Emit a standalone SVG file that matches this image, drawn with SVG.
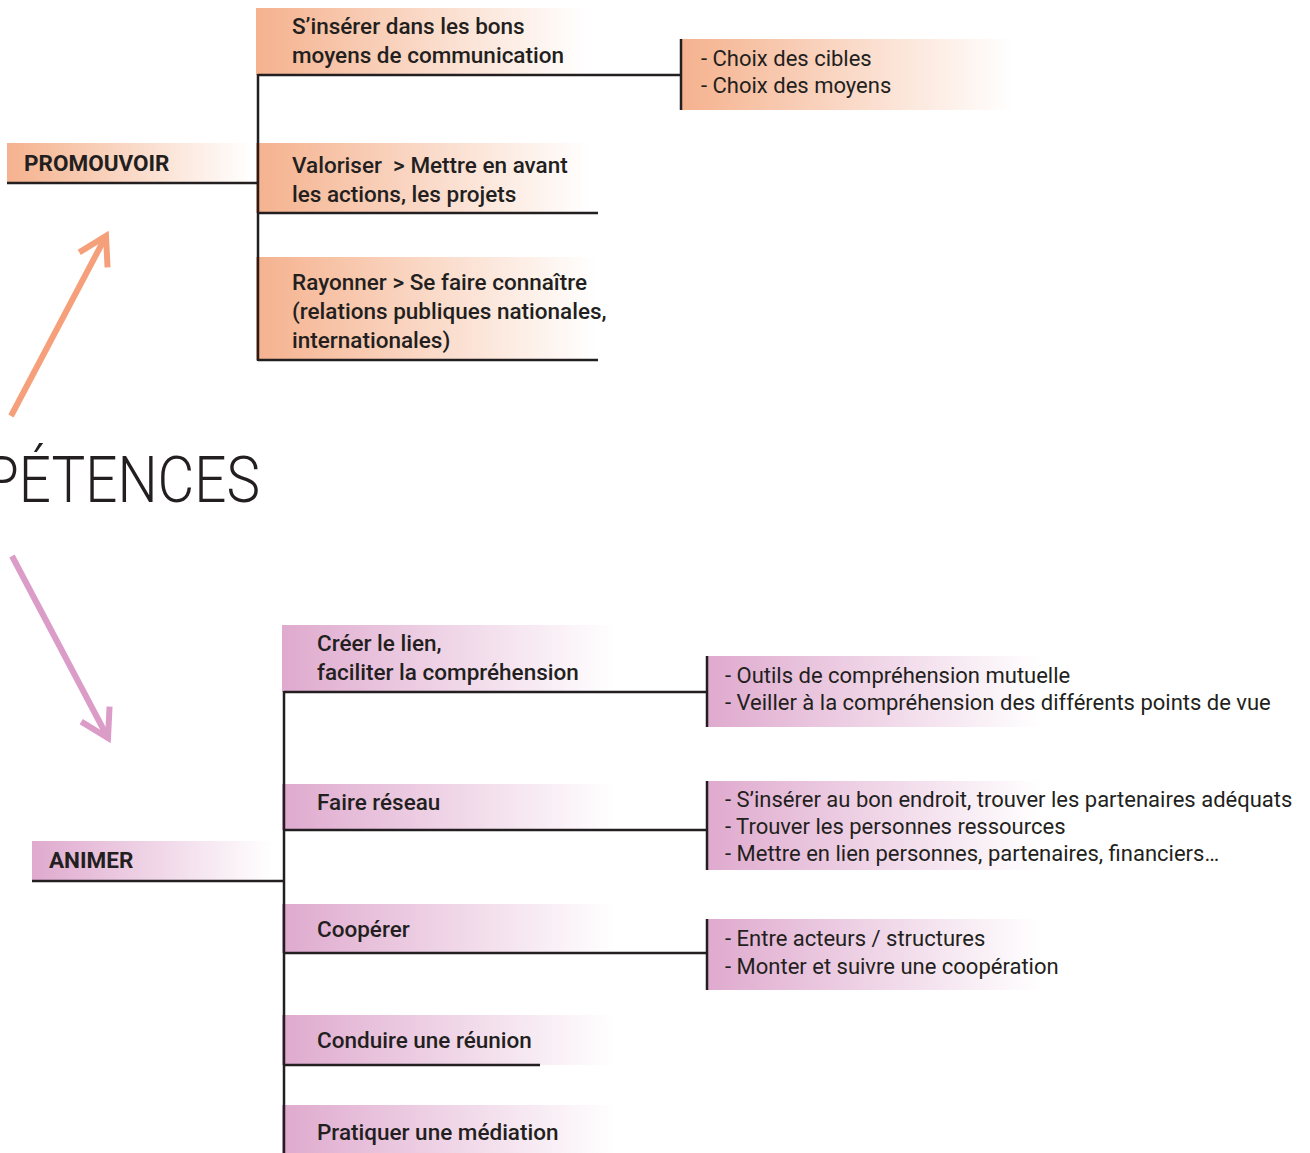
<svg xmlns="http://www.w3.org/2000/svg" width="1310" height="1153" viewBox="0 0 1310 1153">
  <defs>
    <linearGradient id="gOrange" x1="0" y1="0" x2="1" y2="0">
      <stop offset="0" stop-color="#f5b28f"/>
      <stop offset="0.12" stop-color="#f6bb9b"/>
      <stop offset="1" stop-color="#ffffff"/>
    </linearGradient>
    <linearGradient id="gPink" x1="0" y1="0" x2="1" y2="0">
      <stop offset="0" stop-color="#dfaace"/>
      <stop offset="0.12" stop-color="#e3b4d4"/>
      <stop offset="1" stop-color="#ffffff"/>
    </linearGradient>
    <marker id="headOrange" markerUnits="userSpaceOnUse" markerWidth="44" markerHeight="44" refX="32" refY="22" orient="auto" viewBox="0 0 44 44">
      <polyline points="5,6 32,22 5,38" fill="none" stroke="#f5a07a" stroke-width="6"/>
    </marker>
    <marker id="headPink" markerUnits="userSpaceOnUse" markerWidth="44" markerHeight="44" refX="32" refY="22" orient="auto" viewBox="0 0 44 44">
      <polyline points="5,6 32,22 5,38" fill="none" stroke="#db9cc8" stroke-width="6"/>
    </marker>
  </defs>
  <style>
    text { font-family: Roboto, "Liberation Sans", sans-serif; fill: #231f20; }
    .lbl { font-size: 22.5px; font-weight: 500; }
    .sub { font-size: 22px; }
    .head { font-size: 22.5px; font-weight: bold; }
    .big { font-family: Roboto, "Liberation Sans", sans-serif; font-size: 64px; font-weight: 300; }
    .wire { stroke: #231f20; stroke-width: 2.5; fill: none; }
    .bar { stroke: #231f20; stroke-width: 2.5; }
    .or { fill: url(#gOrange); }
    .pk { fill: url(#gPink); }
  </style>

  <rect width="1310" height="1153" fill="#ffffff"/>

  <!-- central title, running off the left edge -->
  <text class="big" x="-16" y="502" textLength="276" lengthAdjust="spacingAndGlyphs">PÉTENCES</text>

  <!-- arrows from the title -->
  <g id="arrows">
    <line x1="11" y1="416" x2="106" y2="236" stroke="#f5a07a" stroke-width="6" marker-end="url(#headOrange)"/>
    <line x1="12" y1="556" x2="108" y2="738" stroke="#db9cc8" stroke-width="6" marker-end="url(#headPink)"/>
  </g>

  <!-- PROMOUVOIR branch -->
  <g id="promouvoir">
    <rect class="or" x="7" y="143" width="245" height="40"/>
    <text class="head" x="24" y="171">PROMOUVOIR</text>
  </g>
  <g id="p-inserer">
    <rect class="or" x="256" y="8" width="330" height="67"/>
    <text class="lbl" x="292" y="34">S’insérer dans les bons</text>
    <text class="lbl" x="292" y="63">moyens de communication</text>
  </g>
  <g id="p-inserer-detail">
    <rect class="or" x="681" y="39" width="332" height="71"/>
    <text class="sub" x="701" y="66">- Choix des cibles</text>
    <text class="sub" x="701" y="93">- Choix des moyens</text>
  </g>
  <g id="p-valoriser">
    <rect class="or" x="256" y="143" width="334" height="70"/>
    <text class="lbl" x="292" y="173">Valoriser&#160; &gt; Mettre en avant</text>
    <text class="lbl" x="292" y="202">les actions, les projets</text>
  </g>
  <g id="p-rayonner">
    <rect class="or" x="256" y="257" width="340" height="103"/>
    <text class="lbl" x="292" y="290">Rayonner &gt; Se faire connaître</text>
    <text class="lbl" x="292" y="319">(relations publiques nationales,</text>
    <text class="lbl" x="292" y="348">internationales)</text>
  </g>

  <!-- ANIMER branch -->
  <g id="animer">
    <rect class="pk" x="32" y="841" width="240" height="40"/>
    <text class="head" x="49" y="868">ANIMER</text>
  </g>
  <g id="a-lien">
    <rect class="pk" x="282" y="625" width="332" height="67"/>
    <text class="lbl" x="317" y="651">Créer le lien,</text>
    <text class="lbl" x="317" y="680">faciliter la compréhension</text>
  </g>
  <g id="a-lien-detail">
    <rect class="pk" x="707" y="656" width="334" height="71"/>
    <text class="sub" x="725" y="683">- Outils de compréhension mutuelle</text>
    <text class="sub" x="725" y="710">- Veiller à la compréhension des différents points de vue</text>
  </g>
  <g id="a-reseau">
    <rect class="pk" x="282" y="784" width="332" height="46"/>
    <text class="lbl" x="317" y="810">Faire réseau</text>
  </g>
  <g id="a-reseau-detail">
    <rect class="pk" x="707" y="781" width="334" height="89"/>
    <text class="sub" x="725" y="807">- S’insérer au bon endroit, trouver les partenaires adéquats</text>
    <text class="sub" x="725" y="834">- Trouver les personnes ressources</text>
    <text class="sub" x="725" y="861">- Mettre en lien personnes, partenaires, financiers…</text>
  </g>
  <g id="a-cooperer">
    <rect class="pk" x="282" y="904" width="332" height="49"/>
    <text class="lbl" x="317" y="937">Coopérer</text>
  </g>
  <g id="a-cooperer-detail">
    <rect class="pk" x="707" y="919" width="334" height="71"/>
    <text class="sub" x="725" y="946">- Entre acteurs / structures</text>
    <text class="sub" x="725" y="974">- Monter et suivre une coopération</text>
  </g>
  <g id="a-reunion">
    <rect class="pk" x="282" y="1015" width="332" height="50"/>
    <text class="lbl" x="317" y="1048">Conduire une réunion</text>
  </g>
  <g id="a-mediation">
    <rect class="pk" x="282" y="1105" width="332" height="48"/>
    <text class="lbl" x="317" y="1140">Pratiquer une médiation</text>
  </g>

  <!-- tree connectors -->
  <g id="connectors">
    <!-- PROMOUVOIR -->
    <line class="wire" x1="7" y1="183" x2="258" y2="183"/>
    <line class="wire" x1="258" y1="74" x2="258" y2="361"/>
    <line class="wire" x1="258" y1="75" x2="681" y2="75"/>
    <line class="wire" x1="258" y1="213" x2="598" y2="213"/>
    <line class="wire" x1="258" y1="360" x2="598" y2="360"/>
    <line class="bar" x1="681" y1="39" x2="681" y2="110"/>
    <!-- ANIMER -->
    <line class="wire" x1="32" y1="881" x2="284" y2="881"/>
    <line class="wire" x1="284" y1="691" x2="284" y2="1153"/>
    <line class="wire" x1="284" y1="692" x2="707" y2="692"/>
    <line class="wire" x1="284" y1="830" x2="707" y2="830"/>
    <line class="wire" x1="284" y1="953" x2="707" y2="953"/>
    <line class="wire" x1="284" y1="1065" x2="540" y2="1065"/>
    <line class="bar" x1="707" y1="656" x2="707" y2="727"/>
    <line class="bar" x1="707" y1="781" x2="707" y2="870"/>
    <line class="bar" x1="707" y1="919" x2="707" y2="990"/>
  </g>
</svg>
